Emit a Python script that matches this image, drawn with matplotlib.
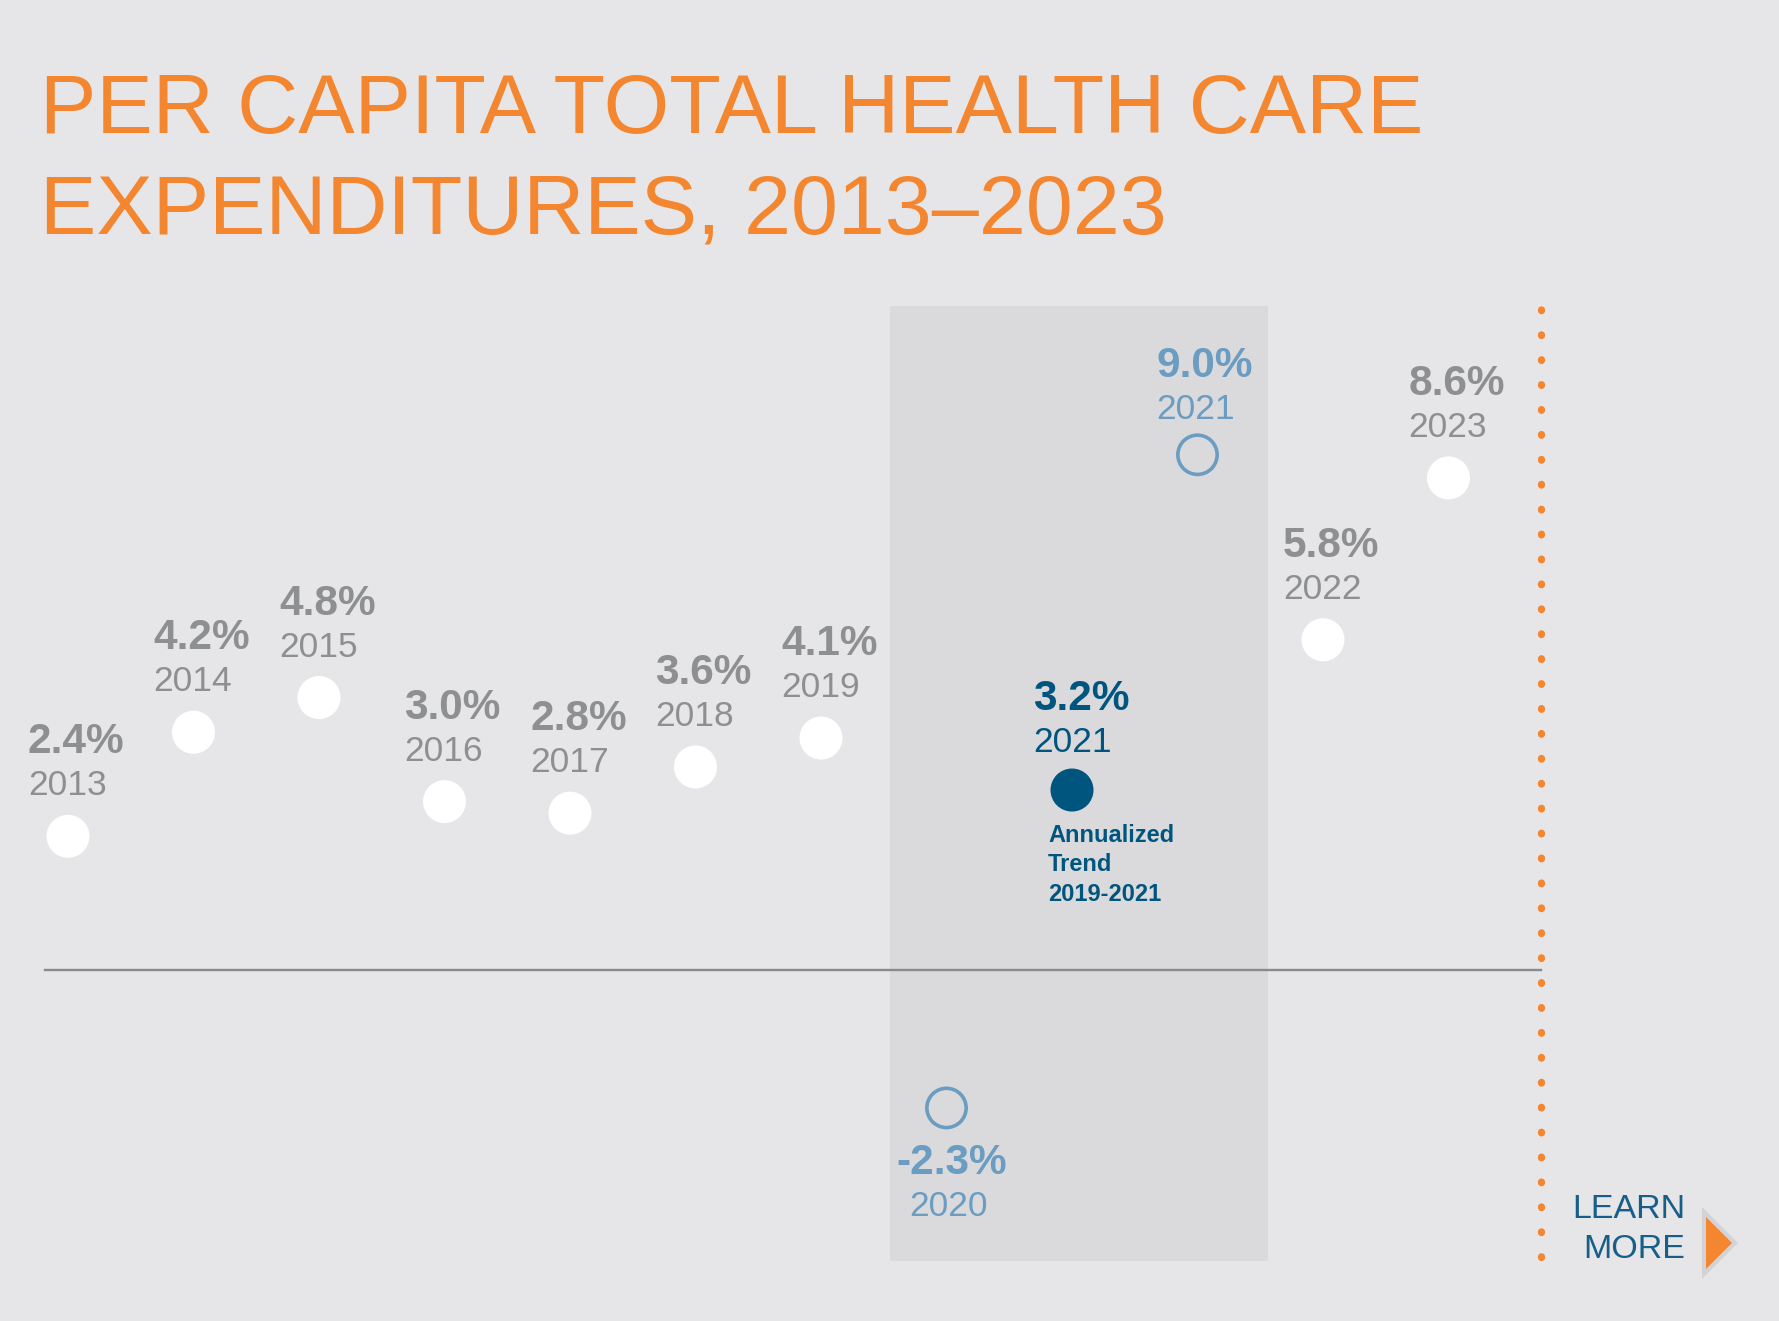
import matplotlib
matplotlib.use("Agg")
import matplotlib.pyplot as plt
from matplotlib.patches import Rectangle, Polygon

plt.rcParams['font.family'] = ['Liberation Sans', 'DejaVu Sans']

# ---- data ----
years = ["2013", "2014", "2015", "2016", "2017", "2018", "2019", "2020", "2021", "2021", "2022", "2023"]
values = [2.4, 4.2, 4.8, 3.0, 2.8, 3.6, 4.1, -2.3, 3.2, 9.0, 5.8, 8.6]
kinds = ["past"] * 7 + ["pandemic", "trend", "pandemic", "past", "past"]
title_text = "PER CAPITA TOTAL HEALTH CARE\nEXPENDITURES, 2013\u20132023"
trend_note = "Annualized\nTrend\n2019-2021"

# ---- style ----
BG = "#e6e6e8"
SHADE = "#dadadc"
ORANGE = "#f4862f"
GRAY = "#8e8f91"
LBLUE = "#6b9cc1"
DBLUE = "#00557f"
LMBLUE = "#175f89"

W, H = 1779, 1321
fig = plt.figure(figsize=(W / 100, H / 100), dpi=100, facecolor=BG)
ax = fig.add_axes([0, 0, 1, 1])
ax.set_facecolor(BG)

# pixel -> data mapping constants (layout)
x0_px, dx_px = 68.0, 125.5
y0_px, dy_px = 975.0, 57.8
ax.set_xlim((0 - x0_px) / dx_px, (W - x0_px) / dx_px)
ax.set_ylim((y0_px - H) / dy_px, (y0_px - 0) / dy_px)
ax.axis('off')

xs = list(range(len(values)))

# shaded pandemic band
ax.add_patch(Rectangle((6.55, (y0_px - 1261) / dy_px), 3.01,
                       (1261 - 306) / dy_px, facecolor=SHADE, edgecolor='none', zorder=0))

# zero line
ax.plot([-0.18, 11.74], [0.08, 0.08], color="#8a8a8c", lw=1.7, zorder=1)

# dotted orange vertical line
ax.plot([11.74, 11.74], [(y0_px - 1257) / dy_px, (y0_px - 306) / dy_px],
        color=ORANGE, lw=5.2, linestyle=(0, (0.1, 3.35)), dash_capstyle='round',
        solid_capstyle='round', zorder=1)

PCT_FS, YR_FS = 30.5, 25.5
for x, v, yr, k in zip(xs, values, years, kinds):
    pct = f"{v:.1f}%"
    if k == "past":
        ax.scatter([x], [v], s=960, color="white", edgecolor='none', zorder=3)
        ax.annotate(pct, (x, v), xytext=(-40, 83), textcoords='offset pixels',
                    fontsize=PCT_FS, fontweight='bold', color=GRAY, ha='left', va='baseline')
        ax.annotate(yr, (x, v), xytext=(-40, 41), textcoords='offset pixels',
                    fontsize=YR_FS, color=GRAY, ha='left', va='baseline')
    elif k == "pandemic":
        ax.scatter([x], [v], s=800, facecolor='none', edgecolor=LBLUE, linewidths=2.6, zorder=3)
        if v < 0:
            ax.annotate(pct, (x, v), xytext=(-50, -66), textcoords='offset pixels',
                        fontsize=PCT_FS, fontweight='bold', color=LBLUE, ha='left', va='baseline')
            ax.annotate(yr, (x, v), xytext=(-37, -108), textcoords='offset pixels',
                        fontsize=YR_FS, color=LBLUE, ha='left', va='baseline')
        else:
            ax.annotate(pct, (x, v), xytext=(-41, 78), textcoords='offset pixels',
                        fontsize=PCT_FS, fontweight='bold', color=LBLUE, ha='left', va='baseline')
            ax.annotate(yr, (x, v), xytext=(-41, 36), textcoords='offset pixels',
                        fontsize=YR_FS, color=LBLUE, ha='left', va='baseline')
    else:
        ax.scatter([x], [v], s=960, color=DBLUE, edgecolor='none', zorder=3)
        ax.annotate(pct, (x, v), xytext=(-39, 80), textcoords='offset pixels',
                    fontsize=PCT_FS, fontweight='bold', color=DBLUE, ha='left', va='baseline')
        ax.annotate(yr, (x, v), xytext=(-39, 38), textcoords='offset pixels',
                    fontsize=YR_FS, color=DBLUE, ha='left', va='baseline')
        ax.annotate(trend_note, (x, v), xytext=(-24, -34), textcoords='offset pixels',
                    fontsize=17, fontweight='bold', color=DBLUE, ha='left', va='top',
                    linespacing=1.35)

# title
fig.text(40 / W, 1 - 234 / H, title_text, fontsize=60.8, color=ORANGE,
         ha='left', va='baseline', linespacing=1.385)

# learn more
fig.text(1685 / W, 1 - 1218 / H, "LEARN", fontsize=24.5, color=LMBLUE, ha='right', va='baseline')
fig.text(1685 / W, 1 - 1258 / H, "MORE", fontsize=24.5, color=LMBLUE, ha='right', va='baseline')
tf = fig.transFigure
fig.patches.append(Polygon([(1702 / W, 1 - 1207 / H), (1702 / W, 1 - 1279 / H), (1738 / W, 1 - 1243 / H)],
                           closed=True, facecolor="#d3d3d7", edgecolor='none', transform=tf, figure=fig))
fig.patches.append(Polygon([(1706 / W, 1 - 1217 / H), (1706 / W, 1 - 1269 / H), (1732 / W, 1 - 1243 / H)],
                           closed=True, facecolor=ORANGE, edgecolor='none', transform=tf, figure=fig))

fig.savefig("out.png", dpi=100, facecolor=BG)
